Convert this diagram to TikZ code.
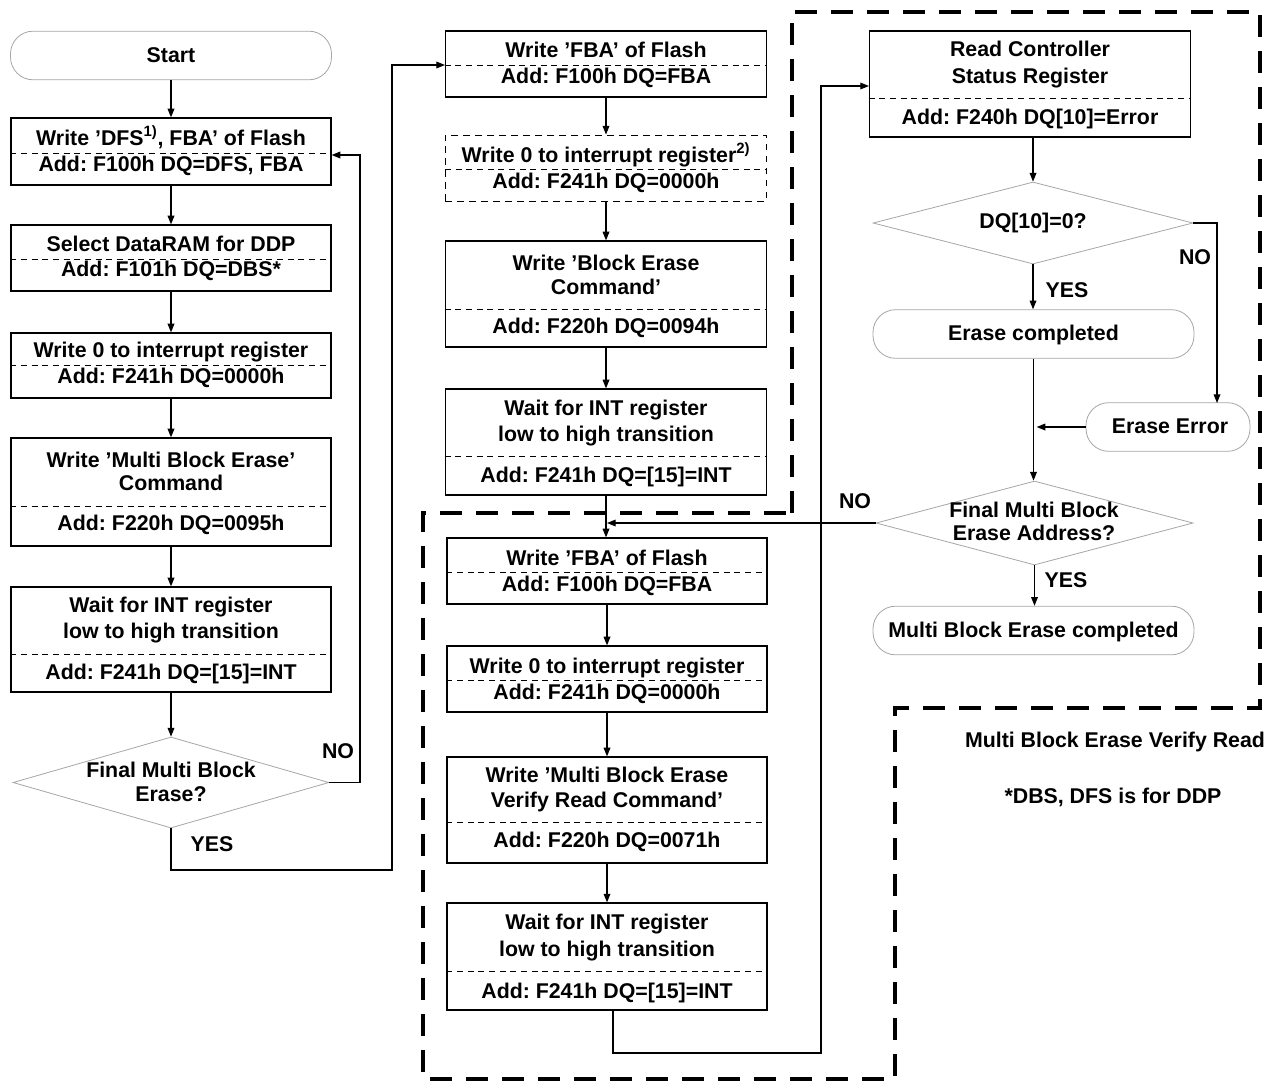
\documentclass[tikz,border=0pt]{standalone}
\usepackage{fontspec}
\setmainfont{Liberation Sans}
\frenchspacing
\usetikzlibrary{shapes.geometric,arrows.meta,calc}
\begin{document}
\begin{tikzpicture}[x=0.75pt,y=-0.75pt,
  box/.style={draw,line width=0.9pt,inner sep=0pt,minimum width=241pt},
  dbox/.style={box,dashed,line width=0.6pt,dash pattern=on 5pt off 4pt},
  term/.style={draw=gray!70,line width=0.6pt,rounded corners=17pt,inner sep=0pt,minimum width=240.75pt,minimum height=36.5pt},
  dia/.style={draw=gray!70,line width=0.6pt,diamond,inner sep=0pt},
  lbl/.style={font=\bfseries\fontsize{16}{18}\selectfont,inner sep=0pt,text height=11.8pt,text depth=2.5pt,anchor=center},
  div/.style={line width=0.6pt,dash pattern=on 4.5pt off 3.5pt},
  arr/.style={line width=0.9pt,-{Triangle[length=6.5pt,width=5pt]}},
  ln/.style={line width=0.9pt},
  region/.style={line width=2.3pt,dash pattern=on 16.5pt off 10.5pt}
]
\useasboundingbox (0,0) rectangle (1276,1082);

% ---------------- left column ----------------
\node[term] (start) at (171,55.5) {};
\node[lbl] (tstart) at (171,56) {Start};

\node[box,minimum height=50.25pt,minimum width=240pt] (b1) at (171,151.5) {};
\draw[div] (b1.west |- 0,153) -- (b1.east |- 0,153);
\node[lbl] (b1a) at (171,139) {Write ’DFS\textsuperscript{1)}, FBA’ of Flash};
\node[lbl] (b1b) at (171,165) {Add: F100h DQ=DFS, FBA};

\node[box,minimum height=49.5pt,minimum width=240pt] (b2) at (171,258) {};
\draw[div] (b2.west |- 0,259) -- (b2.east |- 0,259);
\node[lbl] (b2a) at (171,245) {Select DataRAM for DDP};
\node[lbl] (b2b) at (171,270) {Add: F101h DQ=DBS*};

\node[box,minimum height=48.75pt,minimum width=240pt] (b3) at (171,365.5) {};
\draw[div] (b3.west |- 0,365) -- (b3.east |- 0,365);
\node[lbl] (b3a) at (171,351) {Write 0 to interrupt register};
\node[lbl] (b3b) at (171,377) {Add: F241h DQ=0000h};

\node[box,minimum height=81pt,minimum width=240pt] (b4) at (171,492) {};
\draw[div] (b4.west |- 0,506) -- (b4.east |- 0,506);
\node[lbl] (b4a) at (171,461) {Write ’Multi Block Erase’};
\node[lbl] (b4b) at (171,484) {Command};
\node[lbl] (b4c) at (171,524) {Add: F220h DQ=0095h};

\node[box,minimum height=78.75pt,minimum width=240pt] (b5) at (171,639.5) {};
\draw[div] (b5.west |- 0,654) -- (b5.east |- 0,654);
\node[lbl] (b5a) at (171,606) {Wait for INT register};
\node[lbl] (b5b) at (171,632) {low to high transition};
\node[lbl] (b5c) at (171,673) {Add: F241h DQ=[15]=INT};

\node[dia,minimum width=237pt,minimum height=68.25pt] (d1) at (171,782.5) {};
\node[lbl] (d1a) at (171,771) {Final Multi Block};
\node[lbl] (d1b) at (171,795) {Erase?};

\draw[arr] (start) -- (b1);
\draw[arr] (b1) -- (b2);
\draw[arr] (b2) -- (b3);
\draw[arr] (b3) -- (b4);
\draw[arr] (b4) -- (b5);
\draw[arr] (b5) -- (d1.north);
\coordinate (c1) at (360,155);
\draw[arr] (d1.east) -| (c1) -- (b1.east |- c1);
\coordinate (c2) at (392,870);
\draw[arr] (d1.south) -- (d1.south |- c2) -- (c2) |- (445,65);
\node[lbl] (no1) at (338,752) {NO};
\node[lbl] (yes1) at (212,845) {YES};

% ---------------- middle column ----------------
\node[box,minimum height=49.5pt] (m1) at (606,64) {};
\draw[div] (m1.west |- 0,65) -- (m1.east |- 0,65);
\node[lbl] (m1a) at (606,51) {Write ’FBA’ of Flash};
\node[lbl] (m1b) at (606,77) {Add: F100h DQ=FBA};

\node[dbox,minimum height=49.5pt] (m2) at (606,168) {};
\draw[div] (m2.west |- 0,169) -- (m2.east |- 0,169);
\node[lbl] (m2a) at (606,156) {Write 0 to interrupt register\textsuperscript{2)}};
\node[lbl] (m2b) at (606,182) {Add: F241h DQ=0000h};

\node[box,minimum height=79.5pt] (m3) at (606,294) {};
\draw[div] (m3.west |- 0,309) -- (m3.east |- 0,309);
\node[lbl] (m3a) at (606,264) {Write ’Block Erase};
\node[lbl] (m3b) at (606,288) {Command’};
\node[lbl] (m3c) at (606,327) {Add: F220h DQ=0094h};

\node[box,minimum height=79.5pt] (m4) at (606,442) {};
\draw[div] (m4.west |- 0,456) -- (m4.east |- 0,456);
\node[lbl] (m4a) at (606,409) {Wait for INT register};
\node[lbl] (m4b) at (606,435) {low to high transition};
\node[lbl] (m4c) at (606,476) {Add: F241h DQ=[15]=INT};

\node[box,minimum height=49.5pt,minimum width=240pt] (m5) at (607,571) {};
\draw[div] (m5.west |- 0,572) -- (m5.east |- 0,572);
\node[lbl] (m5a) at (607,559) {Write ’FBA’ of Flash};
\node[lbl] (m5b) at (607,585) {Add: F100h DQ=FBA};

\node[box,minimum height=49.5pt,minimum width=240pt] (m6) at (607,679) {};
\draw[div] (m6.west |- 0,680) -- (m6.east |- 0,680);
\node[lbl] (m6a) at (607,667) {Write 0 to interrupt register};
\node[lbl] (m6b) at (607,693) {Add: F241h DQ=0000h};

\node[box,minimum height=79.5pt,minimum width=240pt] (m7) at (607,810) {};
\draw[div] (m7.west |- 0,822) -- (m7.east |- 0,822);
\node[lbl] (m7a) at (607,776) {Write ’Multi Block Erase};
\node[lbl] (m7b) at (607,801) {Verify Read Command’};
\node[lbl] (m7c) at (607,841) {Add: F220h DQ=0071h};

\node[box,minimum height=80.25pt,minimum width=240pt] (m8) at (607,956.5) {};
\draw[div] (m8.west |- 0,971) -- (m8.east |- 0,971);
\node[lbl] (m8a) at (607,923) {Wait for INT register};
\node[lbl] (m8b) at (607,950) {low to high transition};
\node[lbl] (m8c) at (607,992) {Add: F241h DQ=[15]=INT};

\draw[arr] (m1) -- (m2);
\draw[arr] (m2) -- (m3);
\draw[arr] (m3) -- (m4);
\draw[arr] (m4) -- (m4.south |- m5.north);
\draw[arr] (m5) -- (m6);
\draw[arr] (m6) -- (m7);
\draw[arr] (m7) -- (m8);

% ---------------- right column ----------------
\node[box,minimum height=79.5pt] (r1) at (1030,84) {};
\draw[div] (r1.west |- 0,98) -- (r1.east |- 0,98);
\node[lbl] (r1a) at (1030,50) {Read Controller};
\node[lbl] (r1b) at (1030,77) {Status Register};
\node[lbl] (r1c) at (1030,118) {Add: F240h DQ[10]=Error};

\coordinate (c3) at (613,1053);
\coordinate (c4) at (821,1053);
\draw[arr] ($(m8.south)+(6,0)$) -- (c3) -- (c4) |- (869,86);

\node[dia,minimum width=240pt,minimum height=61.5pt] (d2) at (1033,223) {};
\node[lbl] (d2a) at (1033,222) {DQ[10]=0?};

\node[term] (ec) at (1033.5,334) {};
\node[lbl] (eca) at (1033.5,334) {Erase completed};

\node[term,minimum width=123pt] (ee) at (1168,427) {};
\node[lbl] (eea) at (1170,427) {Erase Error};

\node[dia,minimum width=237.75pt,minimum height=63pt] (d3) at (1034.5,523) {};
\node[lbl] (d3a) at (1034,511) {Final Multi Block};
\node[lbl] (d3b) at (1034,534) {Erase Address?};

\node[term] (mc) at (1033.5,630.5) {};
\node[lbl] (mca) at (1033.5,631) {Multi Block Erase completed};

\draw[arr] (r1.south -| d2.north) -- (d2.north);
\draw[arr] (d2.south) -- (d2.south |- ec.north);
\coordinate (c5) at (1217,403);
\draw[arr] (d2.east) -| (c5);
\draw[arr] (ec.south) -- (ec.south |- d3.north);
\draw[arr] (ee.west) -- ++(-49,0);
\draw[arr] (d3.west) -- (m5.north |- d3.west);
\draw[arr] (d3.south) -- (d3.south |- mc.north);

\node[lbl] (no2) at (1195,258) {NO};
\node[lbl] (yes2) at (1067,291) {YES};
\node[lbl] (no3) at (855,502) {NO};
\node[lbl] (yes3) at (1066,581) {YES};

\node[lbl] (note1) at (1115,741) {Multi Block Erase Verify Read};
\node[lbl] (note2) at (1113,797) {*DBS, DFS is for DDP};

% ---------------- region outline ----------------
\draw[region] (792,513) -- (792,12) -- (1260,12) -- (1260,708) -- (895,708) -- (895,1079) -- (423,1079) -- (423,513) -- cycle;
\end{tikzpicture}
\end{document}
